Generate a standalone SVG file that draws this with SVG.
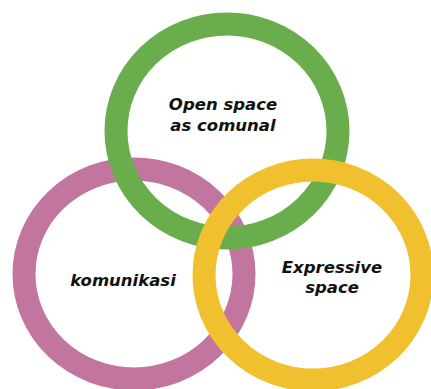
<svg xmlns="http://www.w3.org/2000/svg" width="431" height="389" viewBox="0 0 431 389">
  <style>
    .ring { fill: none; stroke-width: 23; }
    .label { font-family: "DejaVu Sans", "Liberation Sans", sans-serif; font-weight: bold; font-style: italic; font-size: 16.5px; fill: #111; text-anchor: middle; }
  </style>
  <rect width="431" height="389" fill="#ffffff"/>
  <!-- rings are stacked pink, green, yellow so each overlaps the one before -->
  <g id="komunikasi">
    <ellipse class="ring" cx="134" cy="274" rx="110" ry="105" stroke="#c2759f"/>
    <text class="label" x="123" y="286">komunikasi</text>
  </g>
  <g id="open-space">
    <ellipse class="ring" cx="227" cy="131" rx="111" ry="107" stroke="#69ad4c"/>
    <text class="label" x="223" y="110">Open space</text>
    <text class="label" x="223" y="131">as comunal</text>
  </g>
  <g id="expressive-space">
    <ellipse class="ring" cx="313" cy="275" rx="109" ry="105" stroke="#f1c02f"/>
    <text class="label" x="332" y="273">Expressive</text>
    <text class="label" x="332" y="293">space</text>
  </g>
  <g id="connectors"/>
</svg>
